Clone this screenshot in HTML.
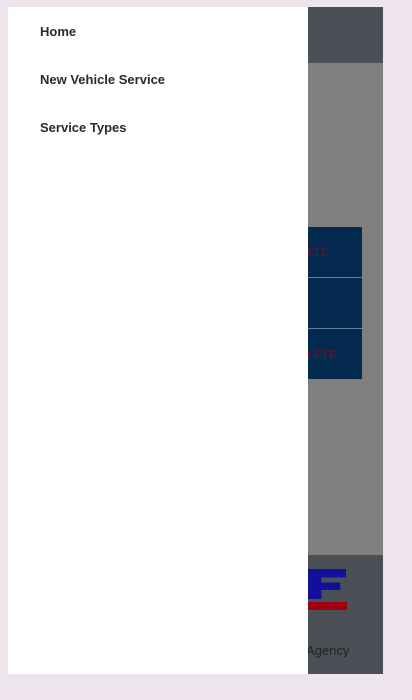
<!DOCTYPE html>
<html><head><meta charset="utf-8"><style>
body{margin:0;width:412px;height:700px;background:#ede4ec;position:relative;overflow:hidden;font-family:"Liberation Sans",sans-serif}
div{position:absolute}
.item{left:40px;font-size:13px;font-weight:bold;color:#2a2a2a}
.row{left:300px;width:62px;height:50px;background:#042b4f;color:#7a1020;font-size:12px;font-family:"Liberation Serif",serif;line-height:50px;overflow:hidden}
</style></head><body>
<div style="left:8px;top:7px;width:375px;height:667px;background:#808080"></div>
<div style="left:8px;top:7px;width:375px;height:56px;background:#4a5056"></div>
<div class="row" style="top:227px;"><span style="margin-left:-4px">&nbsp;LETE</span></div>
<div class="row" style="top:278px;"></div>
<div class="row" style="top:329px;"><span>PLETE</span></div>
<div style="left:300px;top:277px;width:62px;height:1px;background:#6a7f96"></div>
<div style="left:300px;top:328px;width:62px;height:1px;background:#6a7f96"></div>
<div style="left:8px;top:555px;width:375px;height:119px;background:#4b5056"></div>
<div style="left:308px;top:569px;width:38px;height:30px;background:#10109a;clip-path:polygon(0 0,100% 0,100% 28%,35% 28%,35% 45%,85% 45%,85% 70%,35% 70%,35% 100%,0 100%)"></div>
<div style="left:308px;top:602px;width:39px;height:8px;background:#a00010"></div>
<div style="left:306px;top:643px;font-size:13px;color:#222">Agency</div>
<div style="left:8px;top:7px;width:300px;height:667px;background:#fff"></div>
<div class="item" style="top:24px">Home</div>
<div class="item" style="top:72px">New Vehicle Service</div>
<div class="item" style="top:120px">Service Types</div>
</body></html>
